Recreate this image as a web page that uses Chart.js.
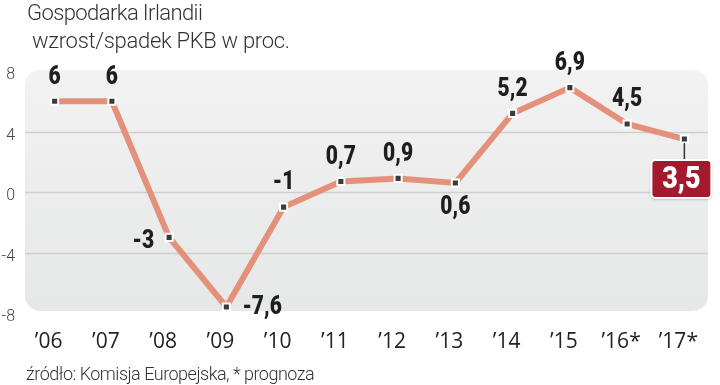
<!DOCTYPE html>
<html>
<head>
<meta charset="utf-8">
<script src="https://cdn.jsdelivr.net/npm/chart.js@4.4.1/dist/chart.umd.min.js"></script>
<style>
  html, body { margin: 0; padding: 0; background: #fff; }
  #wrap { position: relative; width: 720px; height: 385px; overflow: hidden; }
  #wrap canvas { position: absolute; left: 0; top: 0; }
  .txt { position: absolute; font-family: Roboto, sans-serif; font-weight: 300; color: #333; white-space: pre; line-height: 1; }
</style>
</head>
<body>
<div id="wrap">
  <canvas id="chart" width="720" height="385"></canvas>
  <div class="txt" style="left:27px; top:2px; font-size:22px; letter-spacing:-0.6px;">Gospodarka Irlandii</div>
  <div class="txt" style="left:32px; top:30px; font-size:22px; letter-spacing:-0.3px;">wzrost/spadek PKB w proc.</div>
  <div class="txt" style="left:26px; top:365px; font-size:18px; letter-spacing:-0.5px;">źródło: Komisja Europejska, * prognoza</div>
</div>
<script>
// lata (etykiety osi X)
const years = ['’06', '’07', '’08', '’09', '’10', '’11', '’12', '’13', '’14', '’15', '’16*', '’17*'];
// wzrost/spadek PKB w proc.
const growth = [6, 6, -3, -7.6, -1, 0.7, 0.9, 0.6, 5.2, 6.9, 4.5, 3.5];
// gdzie stoi etykieta wartosci
const labelSide = ['top', 'top', 'left', 'right', 'top', 'top', 'top', 'bottom', 'top', 'top', 'top', 'box'];

const yMin = -8, yMax = 8, yStep = 4;

const fmt = v => String(v).replace('.', ',');

// gruby, waski napis: Roboto Black sciesniony w poziomie
function narrowText(ctx, text, x, y, size, align, color) {
    ctx.save();
    ctx.font = `900 ${size}px Roboto, sans-serif`;
    ctx.textBaseline = 'middle';
    ctx.textAlign = align;
    ctx.fillStyle = color;
    ctx.translate(x, y);
    ctx.scale(0.84, 1);
    ctx.fillText(text, 0, 0);
    ctx.restore();
}

// tlo z zaokraglonymi rogami + linie siatki
const plotBackground = {
    id: 'plotBackground',
    beforeDatasetsDraw(chart) {
        const { ctx, chartArea: a, scales: { y } } = chart;
        const top = y.getPixelForValue(yMax) - 1;
        const bottom = y.getPixelForValue(yMin) - 2;
        const left = a.left - 1;
        const right = a.right - 5;
        ctx.save();
        const g = ctx.createLinearGradient(0, top, 0, bottom);
        g.addColorStop(0, '#f2f2f2');
        g.addColorStop(1, '#e6e7e7');
        ctx.fillStyle = g;
        ctx.beginPath();
        ctx.roundRect(left, top, right - left, bottom - top, 15);
        ctx.fill();
        ctx.strokeStyle = '#cfcfcf';
        ctx.lineWidth = 1.5;
        y.ticks.forEach(t => {
            if (t.value === yMin || t.value === yMax) return;
            const py = Math.round(y.getPixelForValue(t.value)) + 0.5;
            ctx.beginPath();
            ctx.moveTo(left, py);
            ctx.lineTo(right, py);
            ctx.stroke();
        });
        ctx.restore();
    }
};

// etykiety wartosci przy punktach
const valueLabels = {
    id: 'valueLabels',
    afterDatasetsDraw(chart) {
        const { ctx } = chart;
        const meta = chart.getDatasetMeta(0);
        meta.data.forEach((pt, i) => {
            const text = fmt(growth[i]);
            const side = labelSide[i];
            const ink = '#1e1e1e';
            if (side === 'top') {
                narrowText(ctx, text, pt.x, pt.y - 24, 25, 'center', ink);
            } else if (side === 'bottom') {
                narrowText(ctx, text, pt.x, pt.y + 25, 25, 'center', ink);
            } else if (side === 'left') {
                narrowText(ctx, text, pt.x - 15, pt.y + 4, 25, 'right', ink);
            } else if (side === 'right') {
                narrowText(ctx, text, pt.x + 16, pt.y + 1, 25, 'left', ink);
            } else if (side === 'box') {
                const bw = 60, bh = 38;
                const bx = pt.x - 33, by = pt.y + 21;
                ctx.save();
                ctx.strokeStyle = '#333';
                ctx.lineWidth = 1.5;
                ctx.beginPath();
                ctx.moveTo(pt.x, pt.y + 4);
                ctx.lineTo(pt.x, by);
                ctx.stroke();
                ctx.shadowColor = 'rgba(0,0,0,0.35)';
                ctx.shadowBlur = 3;
                ctx.shadowOffsetY = 1;
                ctx.fillStyle = '#a3192e';
                ctx.beginPath();
                ctx.roundRect(bx, by, bw, bh, 4);
                ctx.fill();
                ctx.shadowColor = 'transparent';
                ctx.strokeStyle = '#fff';
                ctx.lineWidth = 2;
                ctx.stroke();
                ctx.restore();
                narrowText(ctx, text, bx + bw / 2, by + bh / 2 + 1, 32, 'center', '#fff');
            }
        });
    }
};

new Chart(document.getElementById('chart'), {
    type: 'line',
    data: {
        labels: years,
        datasets: [{
            data: growth,
            borderColor: '#e3917b',
            borderWidth: 6,
            tension: 0,
            pointStyle: 'rect',
            pointRadius: 5,
            pointBackgroundColor: '#3a3a3a',
            pointBorderColor: '#ffffff',
            pointBorderWidth: 2,
            clip: false
        }]
    },
    options: {
        responsive: false,
        animation: false,
        layout: { padding: { top: 71, right: 2, bottom: 0, left: 0 } },
        plugins: {
            legend: { display: false },
            tooltip: { enabled: false }
        },
        scales: {
            x: {
                type: 'category',
                offset: true,
                grid: { display: false },
                border: { display: false },
                ticks: {
                    color: '#222',
                    padding: 8,
                    labelOffset: -6,
                    maxRotation: 0,
                    font: { family: '"Open Sans", sans-serif', size: 21 }
                },
                afterFit: s => { s.height = 72; }
            },
            y: {
                min: yMin,
                max: yMax,
                grid: { display: false },
                border: { display: false },
                ticks: {
                    stepSize: yStep,
                    color: '#444',
                    padding: 3,
                    labelOffset: 4,
                    font: { family: 'Roboto, sans-serif', size: 16, weight: 300 }
                },
                afterFit: s => { s.width = 26; }
            }
        }
    },
    plugins: [plotBackground, valueLabels]
});
</script>
</body>
</html>
